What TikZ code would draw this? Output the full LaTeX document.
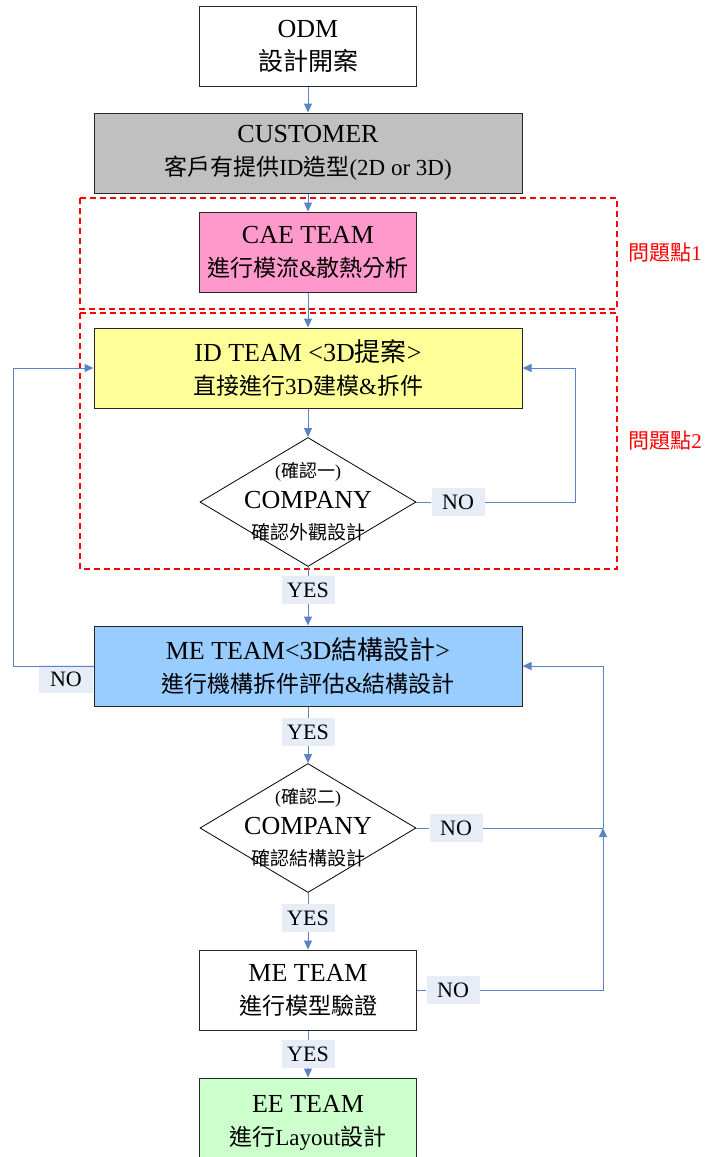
\documentclass[tikz,border=0pt]{standalone}
\usepackage{fontspec}
\setmainfont{Liberation Serif}
\newfontfamily\cjkfont{Noto Sans CJK TC}
\newcommand{\zh}[1]{{\cjkfont #1}}
\newcommand{\lineb}{\fontsize{23}{28}\selectfont}
\usetikzlibrary{arrows.meta,shapes.geometric}
\definecolor{custgray}{HTML}{C0C0C0}
\definecolor{caepink}{HTML}{FF99CC}
\definecolor{idyellow}{HTML}{FFFF99}
\definecolor{meblue}{HTML}{99CCFF}
\definecolor{eegreen}{HTML}{CCFFCC}
\definecolor{ansfill}{HTML}{E6EDF7}
\definecolor{flowblue}{HTML}{5B84C4}

\begin{document}
\begin{tikzpicture}[x=1pt,y=-1pt,>={Triangle[length=9pt,width=8pt]},
  box/.style={draw=black!85,line width=1pt,align=center,inner sep=0pt,font=\fontsize{26}{33}\selectfont},
  wide/.style={box,minimum width=428,minimum height=80},
  narrow/.style={box,minimum width=217,minimum height=80},
  chkbox/.style={diamond,draw=black,line width=0.8pt,minimum width=216,minimum height=129,inner sep=0pt},
  chktext/.style={align=center,inner sep=0pt,font=\fontsize{26}{31}\selectfont},
  ans/.style={fill=ansfill,minimum width=53,minimum height=28,inner sep=0pt,font=\fontsize{22}{22}\selectfont},
  flow/.style={draw=flowblue,line width=1pt},
  zone/.style={draw=red,line width=1.6pt,dash pattern=on 6pt off 4pt},
  note/.style={text=red,inner sep=0pt,font=\fontsize{21}{21}\selectfont}]
\clip (0,0) rectangle (708,1157);

% process boxes
\node[narrow,fill=white] (odm) at (308,46) {ODM\\{\fontsize{25}{28}\selectfont\zh{設計開案}}};
\node[wide,fill=custgray] (cust) at (308,153) {CUSTOMER\\{\lineb\zh{客戶有提供}ID\zh{造型}(2D or 3D)}};
\node[narrow,fill=caepink] (cae) at (308,252) {CAE TEAM\\{\lineb\zh{進行模流}\&\zh{散熱分析}}};
\node[wide,fill=idyellow] (idt) at (308,368) {ID TEAM <3D\zh{提案}>\\{\lineb\zh{直接進行}3D\zh{建模}\&\zh{拆件}}};
\node[wide,fill=meblue] (me) at (308,666) {ME TEAM<3D\zh{結構設計}>\\{\lineb\zh{進行機構拆件評估}\&\zh{結構設計}}};
\node[narrow,fill=white] (mev) at (308,990) {ME TEAM\\{\lineb\zh{進行模型驗證}}};
\node[narrow,fill=eegreen,minimum height=90] (ee) at (308,1123) {EE TEAM\\{\lineb\zh{進行}Layout\zh{設計}}};

% decisions
\node[chkbox] (chk1) at (308,502) {};
\node[chktext] (chk1txt) at (chk1) {{\fontsize{18}{20}\selectfont(\zh{確認一})}\\COMPANY\\{\fontsize{19}{20}\selectfont\zh{確認外觀設計}}};
\node[chkbox] (chk2) at (308,828) {};
\node[chktext] (chk2txt) at (chk2) {{\fontsize{18}{20}\selectfont(\zh{確認二})}\\COMPANY\\{\fontsize{19}{20}\selectfont\zh{確認結構設計}}};

% answers
\node[ans] (yes1) at (308,590) {YES};
\node[ans] (yes2) at (308,732) {YES};
\node[ans] (yes3) at (308,918) {YES};
\node[ans] (yes4) at (308,1054) {YES};
\node[ans] (no1) at (458,502) {NO};
\node[ans,minimum width=54] (no2) at (66,679) {NO};
\node[ans] (no3) at (456,828) {NO};
\node[ans] (no4) at (453,990) {NO};

\coordinate (r1) at (575,502);
\coordinate (l1) at (13,666);
\coordinate (r2) at (603,828);
\coordinate (r3) at (603,990);

% problem zones
\draw[zone] (80,198) rectangle (617,309);
\draw[zone] (80,313) rectangle (617,569);
\node[note] (prob1) at (665,253) {\zh{問題點}1};
\node[note] (prob2) at (665,441) {\zh{問題點}2};

% connectors
\draw[flow,->] (odm.south) -- (cust.north);
\draw[flow,->] (cust.south) -- (cae.north);
\draw[flow,->] (cae.south) -- (idt.north);
\draw[flow,->] (idt.south) -- (chk1.north);
\draw[flow] (chk1.south) -- (yes1.north);
\draw[flow,->] (yes1.south) -- (me.north);
\draw[flow] (chk1.east) -- (no1.west);
\draw[flow,->] (no1.east) -- (r1) |- (idt.east);
\draw[flow,->] (me.west) -- (l1) |- (idt.west);
\draw[flow] (me.south) -- (yes2.north);
\draw[flow,->] (yes2.south) -- (chk2.north);
\draw[flow] (chk2.east) -- (no3.west);
\draw[flow] (no3.east) -- (r2);
\draw[flow,->] (r2) |- (me.east);
\draw[flow] (chk2.south) -- (yes3.north);
\draw[flow,->] (yes3.south) -- (mev.north);
\draw[flow] (mev.east) -- (no4.west);
\draw[flow,->] (no4.east) -- (r3) -- (r2);
\draw[flow] (mev.south) -- (yes4.north);
\draw[flow,->] (yes4.south) -- (ee.north);
\end{tikzpicture}
\end{document}
